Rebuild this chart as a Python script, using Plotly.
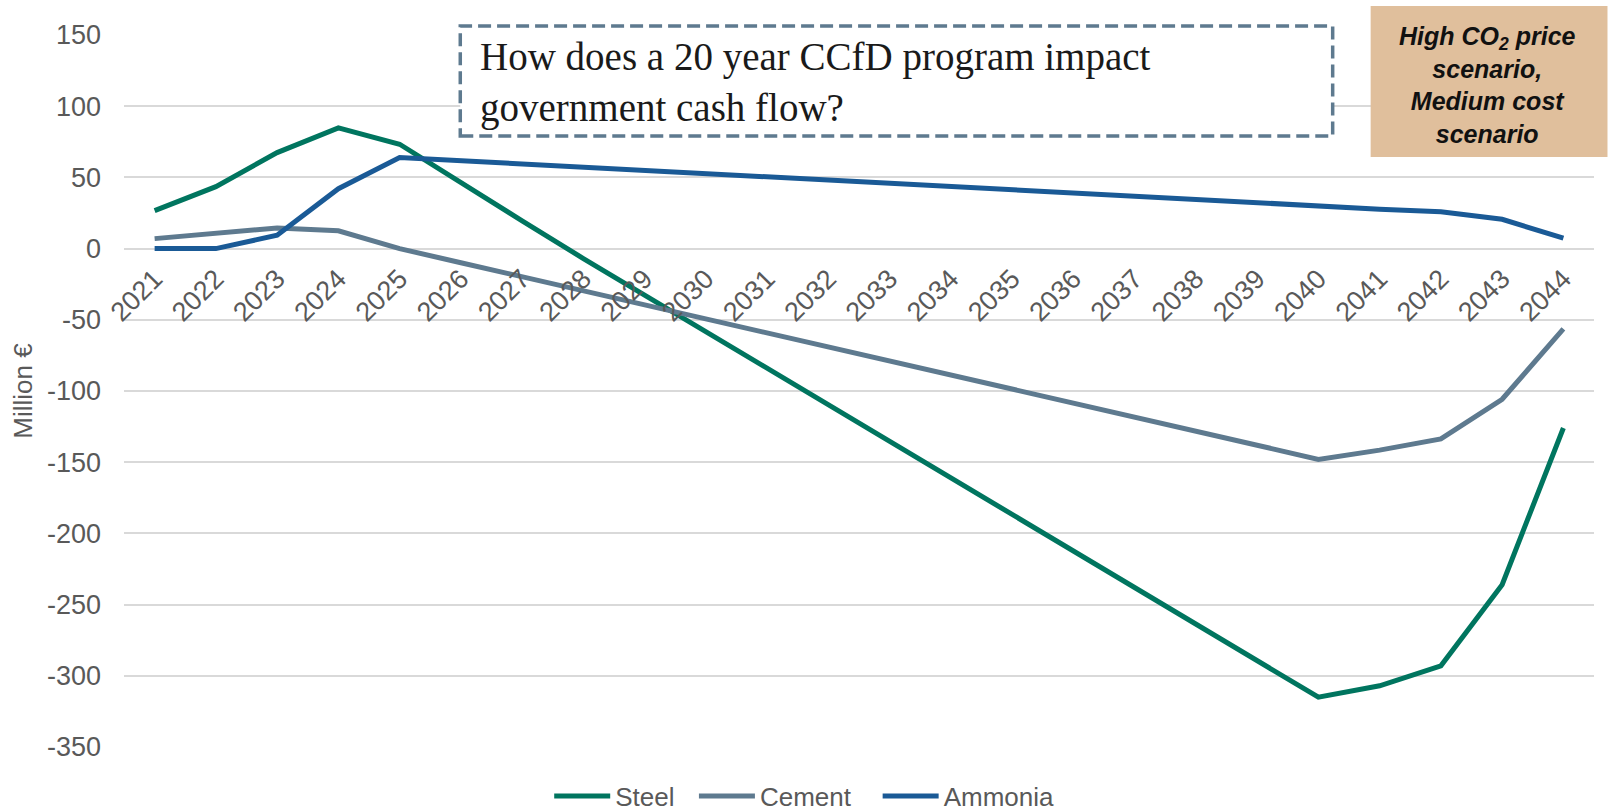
import plotly.graph_objects as go

# Years of the 20-year CCfD programme horizon
years = [str(y) for y in range(2021, 2045)]

# Government cash flow per sector, million €
steel = [26.7, 43.5, 67.4, 84.8, 73.3, 46.0, 19.5, -7.0, -32.7, -58.5, -84.2, -110.0,
         -135.7, -161.5, -187.2, -213.0, -238.7, -264.5, -290.2, -315.0, -307.0, -293.0,
         -236.0, -126.0]
cement = [7.0, 10.5, 14.5, 12.5, 0.0, -9.9, -19.7, -29.6, -39.5, -49.3, -59.2, -69.1,
          -78.9, -88.8, -98.7, -108.5, -118.4, -128.3, -138.1, -148.0, -141.5, -133.6,
          -105.8, -56.4]
ammonia = [0.0, 0.0, 9.4, 42.1, 64.0, 61.7, 59.4, 57.1, 54.8, 52.5, 50.2, 47.9,
           45.6, 43.3, 41.0, 38.7, 36.4, 34.1, 31.8, 29.5, 27.7, 25.8, 20.6, 7.3]

# Value-axis ticks (plain hyphen for negatives)
y_ticks = [150, 100, 50, 0, -50, -100, -150, -200, -250, -300, -350]
y_tick_labels = ["150", "100", "50", "0", "-50", "-100", "-150", "-200", "-250", "-300", "-350"]

series = [("Steel", steel, "#00755F"),
          ("Cement", cement, "#5E7A8F"),
          ("Ammonia", ammonia, "#1A5A96")]

# non-breaking spaces widen the gap after each legend entry
legend_pads = [2, 3, 0]

fig = go.Figure()
for (name, vals, color), pad in zip(series, legend_pads):
    fig.add_trace(go.Scatter(
        x=years, y=vals, name=name + "\u00a0" * pad, mode="lines",
        line=dict(color=color, width=5),
    ))

tick_color = "#595959"
fig.update_layout(
    width=1608, height=811,
    margin=dict(l=123.5, r=13.5, t=35, b=64, autoexpand=False),
    paper_bgcolor="white", plot_bgcolor="white",
    font=dict(family="Liberation Sans, Arial, sans-serif", color=tick_color),
    showlegend=True,
    legend=dict(
        orientation="h", x=(549 - 123.5) / 1471, xanchor="left",
        y=-0.0688, yanchor="middle",
        itemwidth=56,
        font=dict(size=26, color=tick_color),
        bgcolor="rgba(0,0,0,0)",
    ),
    xaxis=dict(
        type="category", range=[-0.5, 23.5],
        anchor="free", position=0.7,
        showgrid=False, showline=False, ticks="", zeroline=False,
        tickangle=-45, tickfont=dict(size=27, color=tick_color),
        ticklabelstandoff=8,
    ),
    yaxis=dict(
        range=[-350, 150], tickmode="array",
        tickvals=y_ticks, ticktext=y_tick_labels,
        showgrid=True, gridcolor="#D9D9D9", gridwidth=1.5,
        zeroline=False, showline=False, ticks="",
        tickfont=dict(size=27, color=tick_color),
        ticklabelstandoff=22,
        title=dict(text="Million €", font=dict(size=26, color=tick_color), standoff=6),
    ),
)

# Question box with dashed border
fig.add_shape(type="rect", xref="paper", yref="paper",
              x0=(460 - 123.5) / 1471, x1=(1333 - 123.5) / 1471,
              y0=(747 - 136) / 712, y1=(747 - 26) / 712,
              line=dict(color="#5E7A8F", width=3.5, dash="13px,6px"),
              fillcolor="white", layer="above")
fig.add_annotation(xref="paper", yref="paper",
                   x=(478 - 123.5) / 1471, y=(747 - 82) / 712,
                   xanchor="left", yanchor="middle", align="left", showarrow=False,
                   text="How does a 20 year CCfD program impact<br>government cash flow?",
                   font=dict(family="Liberation Serif, serif", size=39, color="#1A1A1A"))

# Scenario label
fig.add_shape(type="rect", xref="paper", yref="paper",
              x0=(1371 - 123.5) / 1471, x1=(1608 - 123.5) / 1471,
              y0=(747 - 157) / 712, y1=(747 - 6) / 712,
              line=dict(width=0), fillcolor="#E0BF9C", layer="above")
fig.add_annotation(xref="paper", yref="paper",
                   x=(1488 - 123.5) / 1471, y=(747 - 85) / 712,
                   xanchor="center", yanchor="middle", align="center", showarrow=False,
                   text="<b><i>High CO<sub>2</sub> price<br>scenario,<br>Medium cost<br>scenario</i></b>",
                   font=dict(family="Liberation Sans, Arial, sans-serif", size=25, color="#111111"))

fig.write_html("out.html")
